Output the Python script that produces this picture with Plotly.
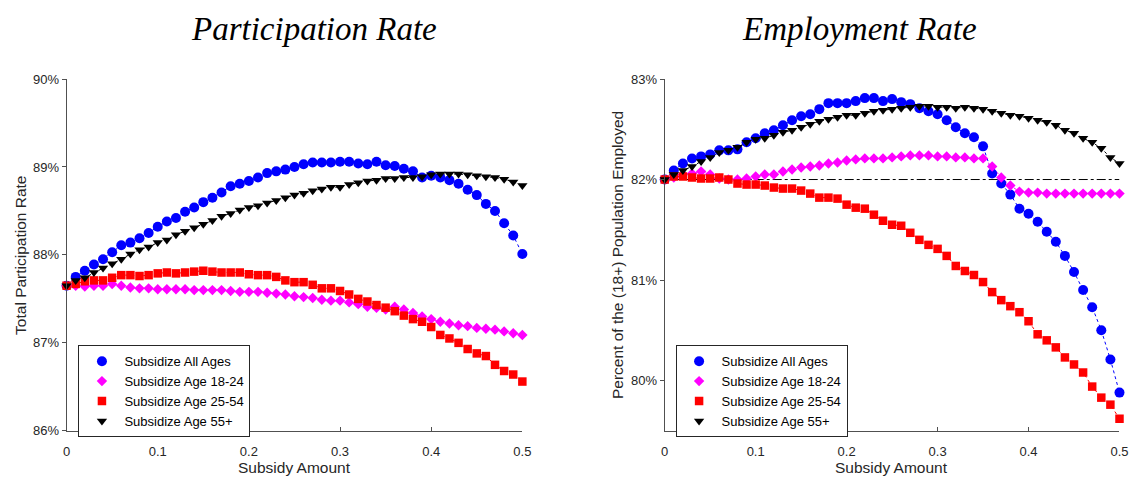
import plotly.graph_objects as go

W, H = 1145, 486

subsidy = [round(i * 0.01, 2) for i in range(51)]

# Participation rate (%)
part_all = [87.65, 87.75, 87.82, 87.89, 87.95, 88.03, 88.11, 88.14, 88.19, 88.25,
            88.32, 88.38, 88.42, 88.49, 88.54, 88.60, 88.65, 88.71, 88.78, 88.81,
            88.84, 88.88, 88.93, 88.95, 88.97, 89.00, 89.03, 89.05, 89.05, 89.05,
            89.06, 89.06, 89.04, 89.03, 89.06, 89.02, 89.01, 88.98, 88.95, 88.88,
            88.90, 88.88, 88.85, 88.81, 88.74, 88.68, 88.58, 88.50, 88.36, 88.22,
            88.01]
part_1824 = [87.65, 87.65, 87.64, 87.65, 87.65, 87.67, 87.65, 87.63, 87.62, 87.62,
             87.61, 87.61, 87.61, 87.61, 87.60, 87.60, 87.60, 87.60, 87.59, 87.58,
             87.58, 87.58, 87.57, 87.56, 87.55, 87.53, 87.52, 87.51, 87.49, 87.48,
             87.48, 87.46, 87.44, 87.41, 87.40, 87.38, 87.41, 87.38, 87.34, 87.30,
             87.27, 87.24, 87.22, 87.20, 87.19, 87.17, 87.16, 87.15, 87.13, 87.11,
             87.09]
part_2554 = [87.65, 87.67, 87.70, 87.71, 87.71, 87.74, 87.77, 87.77, 87.76, 87.77,
             87.79, 87.80, 87.79, 87.80, 87.81, 87.82, 87.81, 87.80, 87.80, 87.80,
             87.78, 87.77, 87.77, 87.75, 87.71, 87.69, 87.69, 87.66, 87.62, 87.62,
             87.59, 87.55, 87.50, 87.47, 87.43, 87.40, 87.36, 87.31, 87.27, 87.24,
             87.18, 87.09, 87.05, 87.00, 86.93, 86.88, 86.85, 86.75, 86.68, 86.64,
             86.56]
part_55 = [87.65, 87.71, 87.74, 87.80, 87.85, 87.90, 87.95, 88.01, 88.06, 88.09,
           88.14, 88.17, 88.23, 88.27, 88.31, 88.35, 88.39, 88.44, 88.47, 88.51,
           88.54, 88.56, 88.59, 88.62, 88.65, 88.68, 88.70, 88.73, 88.75, 88.77,
           88.77, 88.80, 88.82, 88.84, 88.85, 88.87, 88.87, 88.88, 88.88, 88.89,
           88.91, 88.92, 88.92, 88.92, 88.91, 88.90, 88.89, 88.88, 88.86, 88.83,
           88.79]

# Employment rate (%)
emp_all = [82.00, 82.09, 82.16, 82.21, 82.23, 82.25, 82.29, 82.29, 82.30, 82.37,
           82.41, 82.46, 82.49, 82.54, 82.59, 82.63, 82.65, 82.70, 82.76, 82.76,
           82.76, 82.78, 82.81, 82.81, 82.78, 82.80, 82.77, 82.75, 82.71, 82.68,
           82.65, 82.59, 82.52, 82.46, 82.42, 82.33, 82.06, 81.96, 81.85, 81.71,
           81.66, 81.58, 81.48, 81.38, 81.24, 81.08, 80.90, 80.73, 80.50, 80.21,
           79.88]
emp_1824 = [82.00, 82.02, 82.05, 82.06, 82.08, 82.05, 82.01, 82.00, 82.00, 82.01,
            82.03, 82.05, 82.05, 82.08, 82.10, 82.12, 82.13, 82.14, 82.16, 82.17,
            82.19, 82.20, 82.21, 82.21, 82.21, 82.22, 82.23, 82.24, 82.24, 82.24,
            82.23, 82.23, 82.22, 82.22, 82.21, 82.21, 82.13, 82.02, 81.94, 81.88,
            81.87, 81.87, 81.86, 81.86, 81.86, 81.86, 81.86, 81.86, 81.86, 81.86,
            81.86]
emp_2554 = [82.00, 82.03, 82.03, 82.02, 82.01, 82.01, 82.02, 82.00, 81.96, 81.95,
            81.95, 81.94, 81.92, 81.91, 81.91, 81.89, 81.86, 81.82, 81.82, 81.81,
            81.75, 81.72, 81.71, 81.65, 81.59, 81.55, 81.54, 81.47, 81.40, 81.35,
            81.31, 81.24, 81.14, 81.09, 81.05, 80.98, 80.88, 80.80, 80.74, 80.68,
            80.59, 80.46, 80.40, 80.33, 80.23, 80.16, 80.08, 79.94, 79.83, 79.76,
            79.62]
emp_55 = [82.00, 82.05, 82.09, 82.13, 82.18, 82.22, 82.27, 82.29, 82.32, 82.37,
          82.40, 82.41, 82.44, 82.47, 82.49, 82.52, 82.55, 82.58, 82.60, 82.62,
          82.64, 82.64, 82.66, 82.68, 82.69, 82.70, 82.71, 82.72, 82.73, 82.73,
          82.72, 82.72, 82.71, 82.72, 82.71, 82.70, 82.68, 82.66, 82.64, 82.63,
          82.61, 82.59, 82.57, 82.54, 82.49, 82.46, 82.41, 82.37, 82.31, 82.22,
          82.16]
baseline_x = [0.0, 0.5]
baseline_emp = [82.0, 82.0]

series_names = ["Subsidize All Ages", "Subsidize Age 18-24", "Subsidize Age 25-54", "Subsidize Age 55+"]
colors = ["#0000ff", "#ff00ff", "#ff0000", "#000000"]
symbols = ["circle", "diamond", "square", "triangle-down"]
sizes = [10, 8, 8.5, 9]

left_ticks = [86, 87, 88, 89, 90]
left_ticklabels = ["86%", "87%", "88%", "89%", "90%"]
right_ticks = [80, 81, 82, 83]
right_ticklabels = ["80%", "81%", "82%", "83%"]
x_ticks = [0, 0.1, 0.2, 0.3, 0.4, 0.5]
x_ticklabels = ["0", "0.1", "0.2", "0.3", "0.4", "0.5"]

fig = go.Figure()


def px_x(p):
    return p / W


def px_y(p):
    return 1 - p / H


def add_panel(datasets, xa, ya, legend_name):
    # connecting dotted lines (no legend)
    for data, c in zip(datasets, colors):
        fig.add_trace(go.Scatter(
            x=subsidy, y=data, mode="lines", showlegend=False, hoverinfo="skip",
            line=dict(color=c, width=1, dash="dot"), xaxis=xa, yaxis=ya))
    # markers (legend)
    for data, name, c, s, sz in zip(datasets, series_names, colors, symbols, sizes):
        fig.add_trace(go.Scatter(
            x=subsidy, y=data, name=name, mode="markers",
            marker=dict(symbol=s, size=sz, color=c, line=dict(width=0)),
            xaxis=xa, yaxis=ya, legend=legend_name, cliponaxis=False))


add_panel([part_all, part_1824, part_2554, part_55], "x", "y", "legend")

fig.add_trace(go.Scatter(
    x=baseline_x, y=baseline_emp, mode="lines", showlegend=False,
    line=dict(color="#000000", width=1, dash="dashdot"),
    xaxis="x2", yaxis="y2", hoverinfo="skip"))

add_panel([emp_all, emp_1824, emp_2554, emp_55], "x2", "y2", "legend2")

tickfont = dict(family="Liberation Sans, Arial, sans-serif", size=13, color="#262626")
axis_common = dict(showgrid=False, zeroline=False, showline=True, linecolor="#505050",
                   linewidth=1, tickcolor="#505050", ticklen=4, tickwidth=1,
                   tickfont=tickfont, mirror=False)

y_dom = [px_y(437.3), px_y(74.3)]

legend_font = dict(family="Liberation Sans, Arial, sans-serif", size=13, color="#000000")

fig.update_layout(
    width=W, height=H,
    margin=dict(l=0, r=0, t=0, b=0),
    paper_bgcolor="white", plot_bgcolor="white",
    xaxis=dict(domain=[px_x(63.3), px_x(524.3)], range=[0, 0.5], anchor="y",
               tickmode="array", tickvals=x_ticks, ticktext=x_ticklabels, ticks="inside",
               ticklabelstandoff=9, **axis_common),
    yaxis=dict(domain=y_dom, range=[86, 90], anchor="x",
               tickmode="array", tickvals=left_ticks, ticktext=left_ticklabels, ticks="outside",
               **axis_common),
    xaxis2=dict(domain=[px_x(668.3), px_x(1128.3)], range=[0, 0.5], anchor="y2",
                tickmode="array", tickvals=x_ticks, ticktext=x_ticklabels, ticks="inside",
                ticklabelstandoff=9, **axis_common),
    yaxis2=dict(domain=y_dom, range=[79.5, 83], anchor="x2",
                tickmode="array", tickvals=right_ticks, ticktext=right_ticklabels, ticks="outside",
                **axis_common),
    legend=dict(x=px_x(75.3), y=px_y(349), xanchor="left", yanchor="top",
                bgcolor="white", bordercolor="#262626", borderwidth=1,
                font=legend_font, tracegroupgap=0, itemwidth=35),
    legend2=dict(x=px_x(679.3), y=px_y(349), xanchor="left", yanchor="top",
                 bgcolor="white", bordercolor="#262626", borderwidth=1,
                 font=legend_font, tracegroupgap=0, itemwidth=35),
    showlegend=True,
)

title_font = dict(family="Liberation Serif, Times New Roman, serif", size=33, color="#000000")
label_font = dict(family="Liberation Sans, Arial, sans-serif", size=15.5, color="#262626")

annotations = [
    dict(text="<i>Participation Rate</i>", x=px_x(313.5), y=px_y(23), font=title_font, yanchor="middle"),
    dict(text="<i>Employment Rate</i>", x=px_x(865), y=px_y(23), font=title_font, yanchor="middle"),
    dict(text="Subsidy Amount", x=px_x(294), y=0.0, font=label_font, yanchor="bottom"),
    dict(text="Subsidy Amount", x=px_x(898), y=0.0, font=label_font, yanchor="bottom"),
    dict(text="Total Participation Rate", x=px_x(16), y=px_y(256), font=label_font, textangle=-90, yanchor="middle"),
    dict(text="Percent of the (18+) Population Employed", x=px_x(620), y=px_y(256), font=label_font, textangle=-90, yanchor="middle"),
]
for a in annotations:
    a.update(xref="paper", yref="paper", showarrow=False, xanchor="center")
fig.update_layout(annotations=annotations)

fig.write_html("out.html")
